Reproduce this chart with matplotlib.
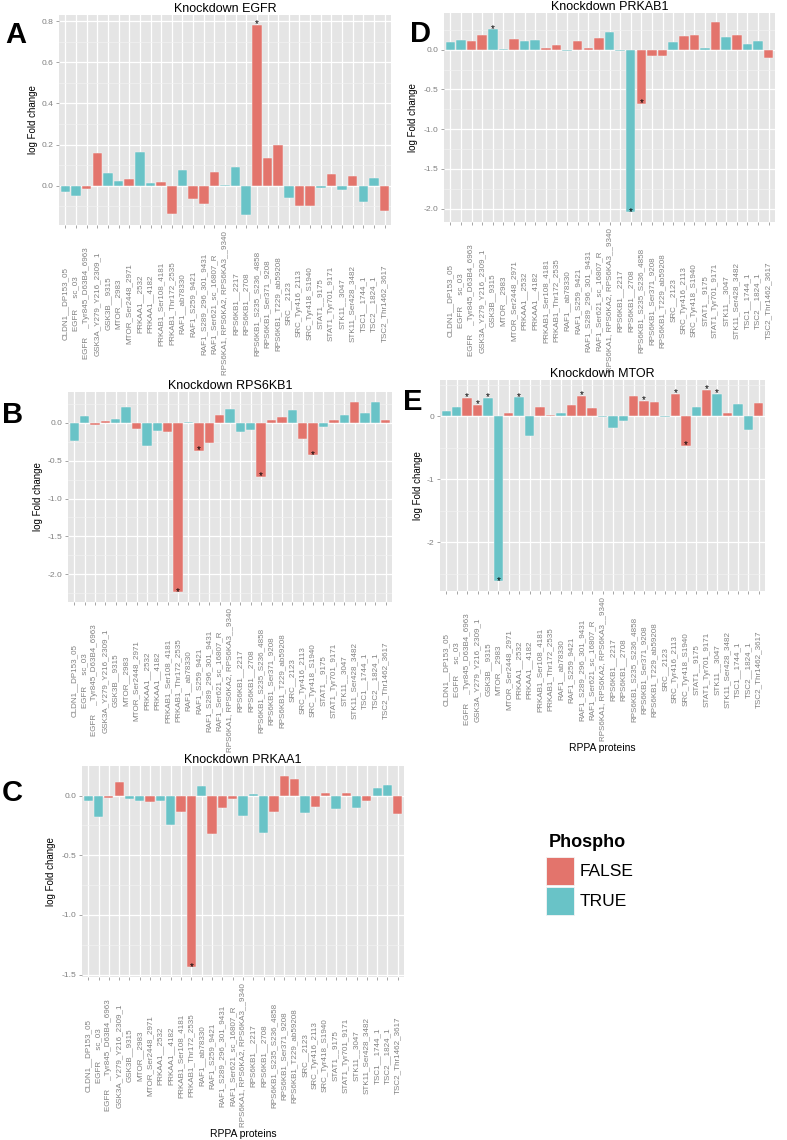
import numpy as np
import matplotlib
matplotlib.use('Agg')
import matplotlib.pyplot as plt
from matplotlib.ticker import MultipleLocator, FormatStrFormatter
from matplotlib.patches import Rectangle

plt.rcParams['font.family'] = ['Liberation Sans', 'DejaVu Sans']

proteins = [
    "CLDN1__DP153_05", "EGFR     sc_03", "EGFR    _Tyr845_D63B4_6963",
    "GSK3A_Y279_Y216_2309_1", "GSK3B__9315", "MTOR__2983", "MTOR_Ser2448_2971",
    "PRKAA1__2532", "PRKAA1__4182", "PRKAB1_Ser108_4181", "PRKAB1_Thr172_2535",
    "RAF1__ab78330", "RAF1_S259_9421", "RAF1_S289_296_301_9431",
    "RAF1_Ser621_sc_16807_R", "RPS6KA1, RPS6KA2, RPS6KA3__9340",
    "RPS6KB1__2217", "RPS6KB1__2708", "RPS6KB1_S235_S236_4858",
    "RPS6KB1_Ser371_9208", "RPS6KB1_T229_ab59208", "SRC__2123",
    "SRC_Tyr416_2113", "SRC_Tyr418_S1940", "STAT1__9175", "STAT1_Tyr701_9171",
    "STK11__3047", "STK11_Ser428_3482", "TSC1__1744_1", "TSC2__1824_1",
    "TSC2_Thr1462_3617",
]
phospho = [True, True, False, False, True, True, False, True, True, False, False,
           True, False, False, False, True, True, True, False, False, False, True,
           False, False, True, False, True, False, True, True, False]

egfr = [-0.032, -0.052, -0.018, 0.158, 0.060, 0.021, 0.032, 0.166, 0.013, 0.018,
        -0.137, 0.076, -0.066, -0.087, 0.068, 0.003, 0.092, -0.145, 0.784, 0.134,
        0.200, -0.060, -0.097, -0.097, -0.013, 0.057, -0.023, 0.045, -0.081, 0.037,
        -0.123]
rps6kb1 = [-0.246, 0.092, -0.026, 0.022, 0.044, 0.21, -0.083, -0.307, -0.11, -0.127,
           -2.24, 0.013, -0.368, -0.263, 0.10, 0.18, -0.127, -0.092, -0.71, 0.03,
           0.07, 0.17, -0.21, -0.43, -0.05, 0.04, 0.10, 0.28, 0.127, 0.27, 0.035]
prkaa1 = [-0.042, -0.182, -0.017, 0.115, -0.025, -0.045, -0.053, -0.042, -0.246,
          -0.134, -1.44, 0.078, -0.325, -0.106, -0.031, -0.171, 0.011, -0.317,
          -0.134, 0.168, 0.14, -0.143, -0.092, 0.02, -0.109, 0.025, -0.101, -0.042,
          0.062, 0.087, -0.154]
prkab1 = [0.10, 0.121, 0.109, 0.184, 0.259, 0.003, 0.13, 0.113, 0.126, 0.021, 0.063,
          -0.013, 0.113, 0.025, 0.142, 0.226, -0.013, -2.05, -0.678, -0.084, -0.084,
          0.096, 0.167, 0.188, 0.025, 0.343, 0.155, 0.18, 0.071, 0.109, -0.10]
mtor = [0.079, 0.153, 0.296, 0.185, 0.296, -2.62, 0.048, 0.30, -0.307, 0.143, 0.021,
        0.058, 0.18, 0.328, 0.138, -0.016, -0.19, -0.074, 0.323, 0.249, 0.233,
        -0.016, 0.36, -0.466, 0.153, 0.423, 0.36, 0.048, 0.20, -0.212, 0.206]

egfr_sig = [19]
rps6kb1_sig = [11, 13, 19, 24]
prkaa1_sig = [11]
prkab1_sig = [5, 18, 19]
mtor_sig = [3, 4, 5, 6, 8, 14, 20, 23, 24, 26, 27]

legend_title = "Phospho"
legend_labels = ["FALSE", "TRUE"]

W, H = 787, 1140
DPI = 100
fig = plt.figure(figsize=(W / DPI, H / DPI), dpi=DPI)

RED = '#E3746C'
TEAL = '#69C3C7'
GREY_TXT = '#808080'
TICK_FS = 5.8


def px_axes(l, r, t, b):
    return fig.add_axes([l / W, 1 - b / H, (r - l) / W, (b - t) / H])


panels = [
    dict(values=egfr, sig=egfr_sig, title='Knockdown EGFR', letter='A',
         box=(59, 391, 15, 225), step=0.2, fmt='%.1f', ylab_x=33, letter_xy=(5, 43),
         xlabel=False),
    dict(values=rps6kb1, sig=rps6kb1_sig, title='Knockdown RPS6KB1', letter='B',
         box=(68, 392, 392, 602), step=0.5, fmt='%.1f', ylab_x=38, letter_xy=(2, 423),
         xlabel=False),
    dict(values=prkaa1, sig=prkaa1_sig, title='Knockdown PRKAA1', letter='C',
         box=(82, 404, 766, 977), step=0.5, fmt='%.1f', ylab_x=51, letter_xy=(2, 801),
         xlabel=True),
    dict(values=prkab1, sig=prkab1_sig, title='Knockdown PRKAB1', letter='D',
         box=(444, 775, 13, 222), step=0.5, fmt='%.1f', ylab_x=413, letter_xy=(410, 42),
         xlabel=False),
    dict(values=mtor, sig=mtor_sig, title='Knockdown MTOR', letter='E',
         box=(440, 765, 380, 591), step=1.0, fmt='%d', ylab_x=418, letter_xy=(403, 410),
         xlabel=True),
]

x = np.arange(1, len(proteins) + 1)
colors = [TEAL if p else RED for p in phospho]

axes = []
for p in panels:
    l, r, t, b = p['box']
    ax = px_axes(l, r, t, b)
    axes.append(ax)
    vals = np.array(p['values'])
    ax.set_facecolor('#E5E5E5')
    ax.set_axisbelow(True)
    ax.bar(x, vals, width=0.9, color=colors, edgecolor='#F4F4F4', linewidth=0.35,
           zorder=2)
    for i in p['sig']:
        ax.annotate('*', (x[i - 1], vals[i - 1]), xytext=(0, 0.3),
                    textcoords='offset points', ha='center', va='center',
                    fontsize=7, color='black', zorder=3)
    lo = min(vals.min(), 0.0)
    hi = max(vals.max(), 0.0)
    rng = hi - lo
    ax.set_ylim(lo - 0.05 * rng, hi + 0.05 * rng)
    ax.set_xlim(0.4, len(proteins) + 0.6)
    ax.yaxis.set_major_locator(MultipleLocator(p['step']))
    ax.yaxis.set_minor_locator(MultipleLocator(p['step'] / 2))
    ax.yaxis.set_major_formatter(FormatStrFormatter(p['fmt']))
    ax.set_xticks(x)
    ax.set_xticklabels(proteins, rotation=90, ha='center', va='center',
                       fontsize=TICK_FS, color=GREY_TXT)
    ax.tick_params(axis='y', labelsize=TICK_FS + 0.3, labelcolor=GREY_TXT,
                   color=GREY_TXT, length=2.5, width=0.5, pad=1.5)
    ax.tick_params(axis='y', which='minor', length=0)
    ax.tick_params(axis='x', color=GREY_TXT, length=2.5, width=0.5)
    ax.grid(which='major', axis='both', color='white', linewidth=0.9)
    ax.grid(which='minor', axis='y', color='#F2F2F2', linewidth=0.45)
    for s in ax.spines.values():
        s.set_visible(False)
    ax.set_title(p['title'], fontsize=9, pad=2.5, color='black')
    cy = (t + b) / 2
    fig.text(p['ylab_x'] / W, 1 - cy / H, 'log Fold change', rotation=90,
             ha='center', va='center', fontsize=7, color='black')
    lx, ly = p['letter_xy']
    fig.text(lx / W, 1 - ly / H, p['letter'], fontsize=21, fontweight='bold',
             ha='left', va='baseline', color='black')
    if p['xlabel']:
        fig.text(((l + r) / 2) / W, 1 - (b + 157) / H, 'RPPA proteins',
                 ha='center', va='center', fontsize=7.5, color='black')

# centre x tick labels in the label band (ggplot style)
fig.canvas.draw()
renderer = fig.canvas.get_renderer()
for ax in axes:
    hmax = max(lbl.get_window_extent(renderer).height for lbl in ax.get_xticklabels())
    ax.tick_params(axis='x', pad=(3 + hmax / 2) * 72 / DPI)

# legend
fig.text(549 / W, 1 - 847 / H, legend_title, fontsize=13, fontweight='bold',
         ha='left', va='baseline', color='black')
for k, (lab, col) in enumerate(zip(legend_labels, [RED, TEAL])):
    top = 857 + k * 30
    fig.add_artist(Rectangle((546 / W, 1 - (top + 28) / H), 28 / W, 28 / H,
                             transform=fig.transFigure, facecolor=col,
                             edgecolor='#F4F4F4', linewidth=0.6))
    fig.text(580 / W, 1 - (top + 14) / H, lab, fontsize=12.5, ha='left',
             va='center', color='black')

fig.savefig('out.png', dpi=DPI)
